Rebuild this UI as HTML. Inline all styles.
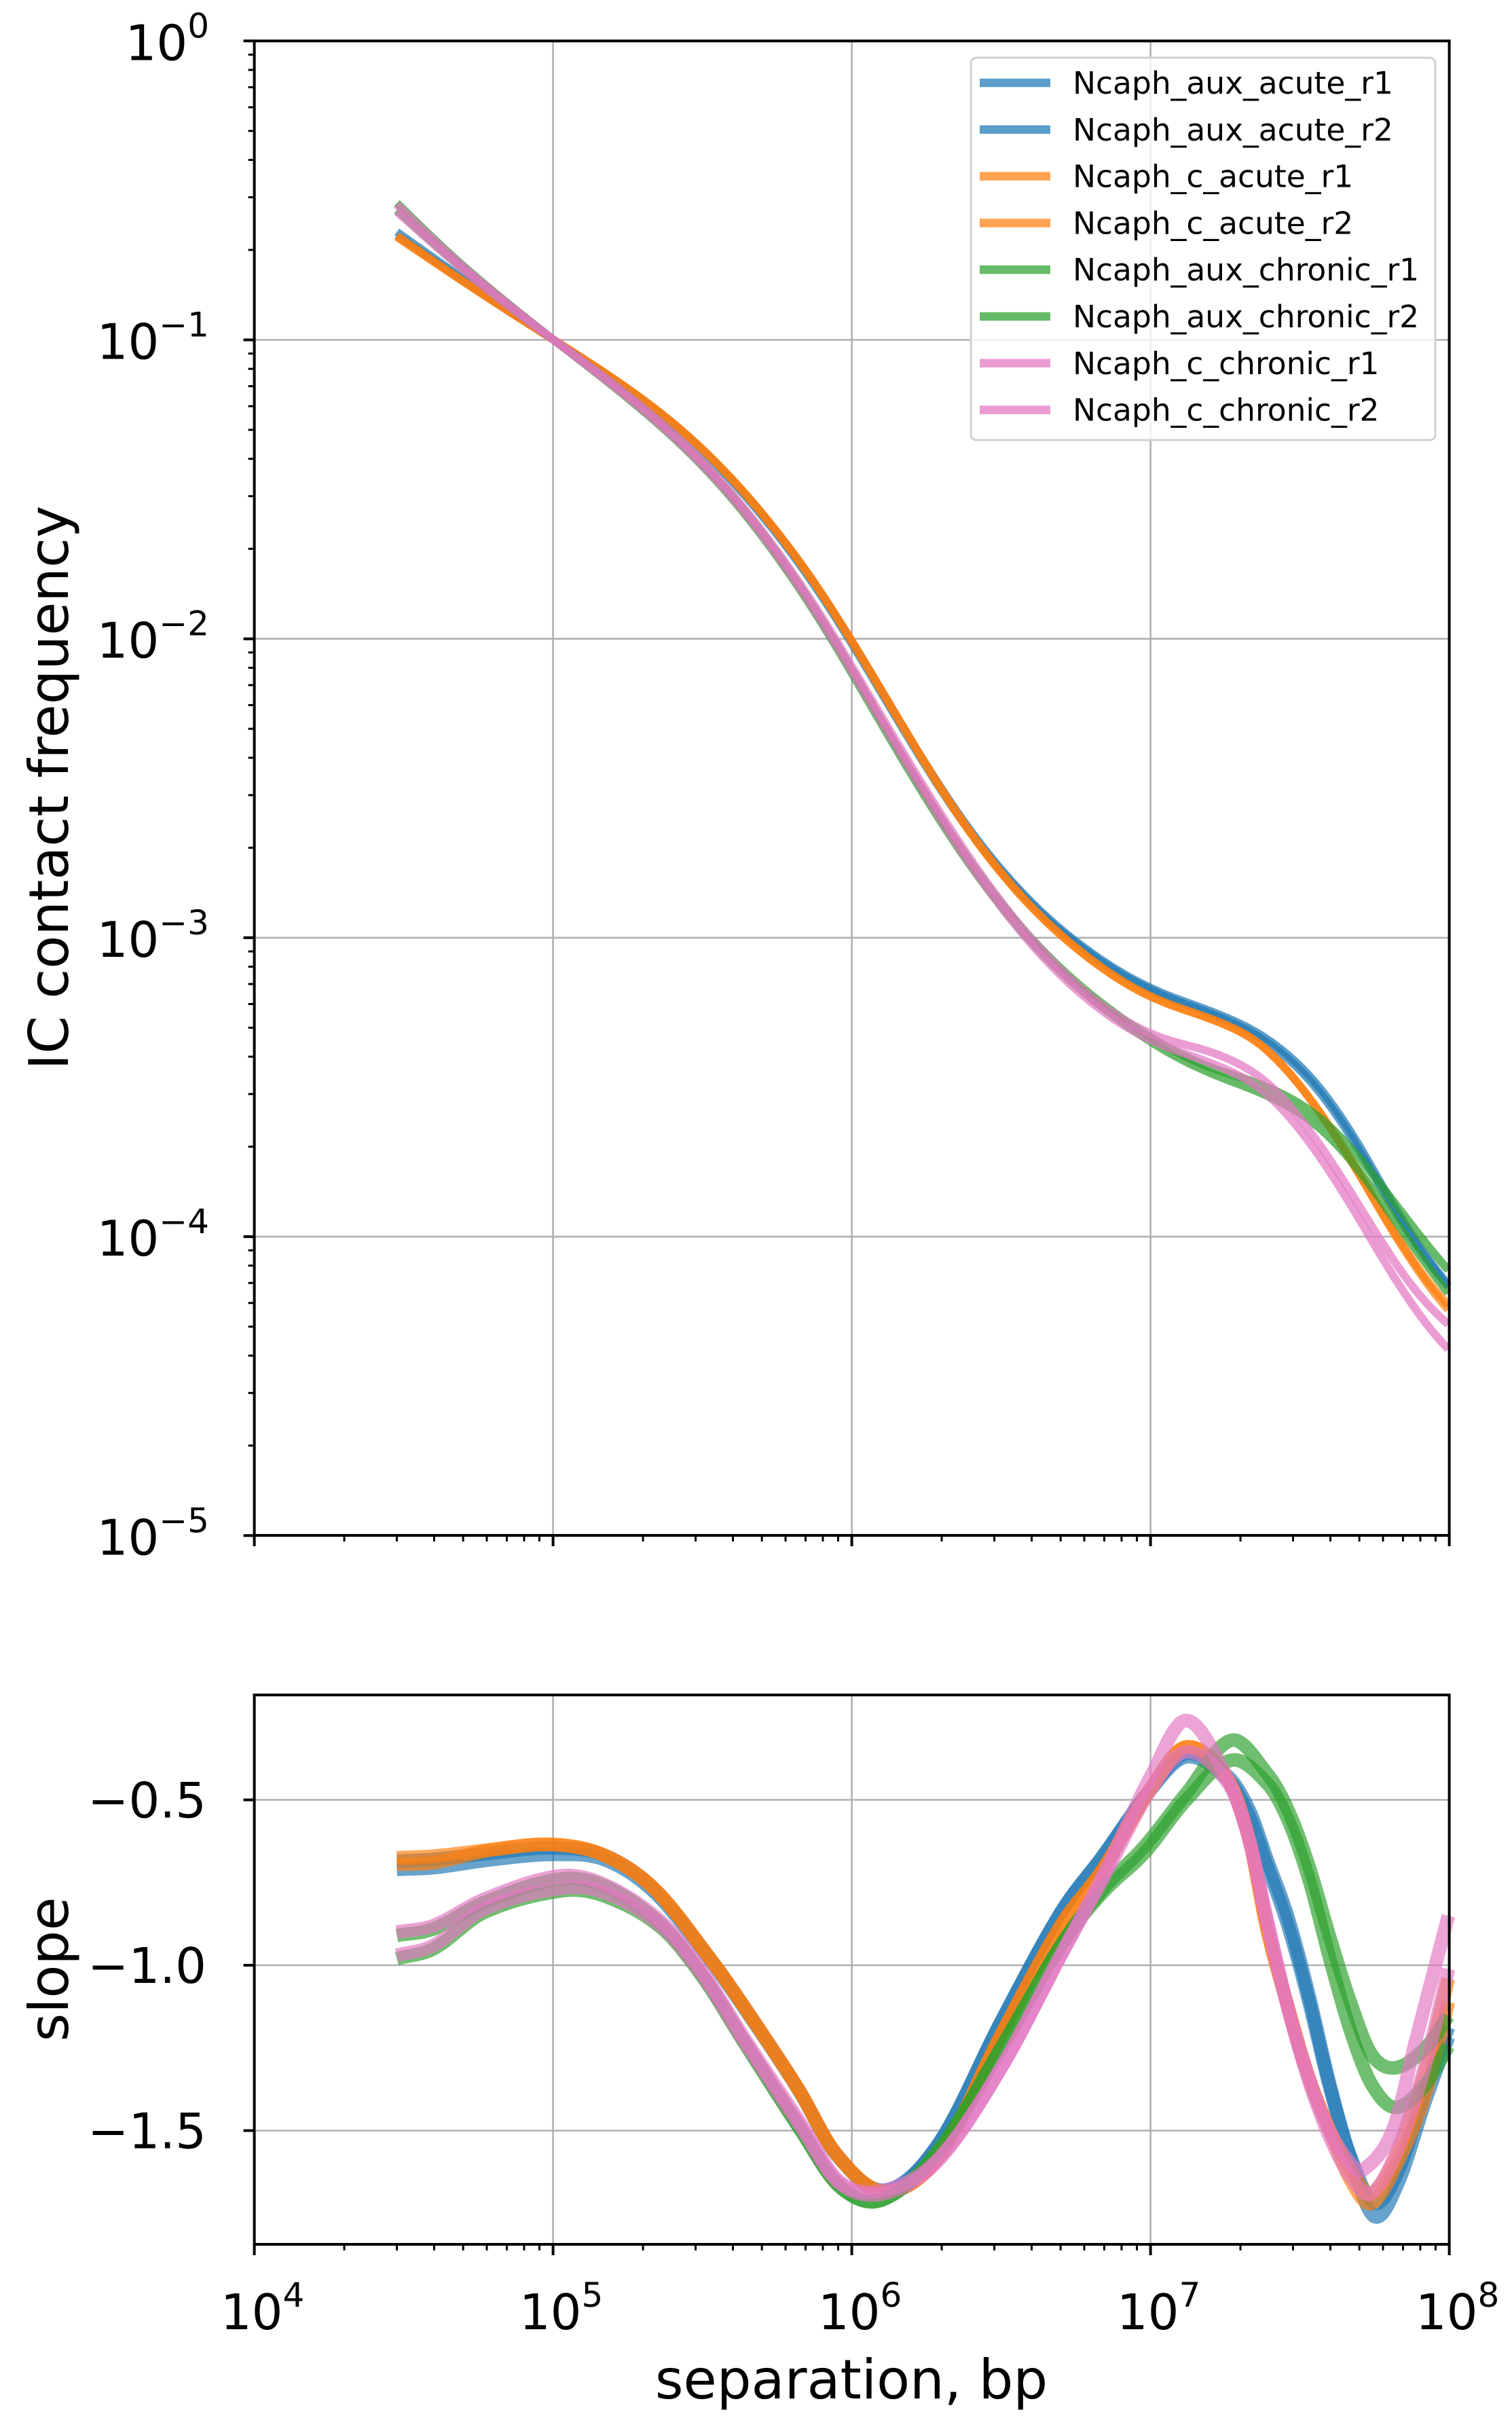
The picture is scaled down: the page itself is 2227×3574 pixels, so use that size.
<!DOCTYPE html>
<html><head><meta charset="utf-8">
<style>
html,body{margin:0;padding:0;background:#fff;}
svg{display:block;}
text{font-family:"DejaVu Sans","Liberation Sans",sans-serif;fill:#000;}
</style></head>
<body>
<svg id="s" width="2227" height="3574" viewBox="0 0 2227 3574" xmlns="http://www.w3.org/2000/svg">
<rect width="2227" height="3574" fill="#fff"/>
<g id="grid"></g>
<g id="curves"></g>
<g id="axes"></g>
<g id="legend"></g>
<text x="78" y="1160" font-size="80" text-anchor="middle" transform="rotate(-90 78 1160)" dominant-baseline="middle">IC contact frequency</text>
<text x="78" y="2900" font-size="80" text-anchor="middle" transform="rotate(-90 78 2900)" dominant-baseline="middle">slope</text>
<text x="1254" y="3532" font-size="80" text-anchor="middle">separation, bp</text>
</svg>
<script>
(function(){
var NS="http://www.w3.org/2000/svg";
function el(tag,attrs,parent,txt){var e=document.createElementNS(NS,tag);for(var k in attrs)e.setAttribute(k,attrs[k]);if(txt!==undefined)e.textContent=txt;parent.appendChild(e);return e;}
var L=374.6,R=2134.6,DX=440;
var T1=60.3,B1=2261,DY1=440.2;
var T2=2496,B2=3305;
function X(ls){return L+(ls-4)*DX;}
function Y1(lp){return T1-lp*DY1;}
function Y2(s){return 2894-(s+1)*487;}
var grid=document.getElementById('grid'),axes=document.getElementById('axes'),cv=document.getElementById('curves'),lg=document.getElementById('legend');
var gc="#b0b0b0",gw=2.6;
for(var d=5;d<=7;d++){el('line',{x1:X(d),x2:X(d),y1:T1,y2:B1,stroke:gc,'stroke-width':gw},grid);el('line',{x1:X(d),x2:X(d),y1:T2,y2:B2,stroke:gc,'stroke-width':gw},grid);}
for(var p=-1;p>=-4;p--){el('line',{x1:L,x2:R,y1:Y1(p),y2:Y1(p),stroke:gc,'stroke-width':gw},grid);}
[-0.5,-1,-1.5].forEach(function(s){el('line',{x1:L,x2:R,y1:Y2(s),y2:Y2(s),stroke:gc,'stroke-width':gw},grid);});
var blue="#1f77b4",orange="#ff7f0e",green="#2ca02c",pink="#e377c2";
function off(arr,lo,hi,d){return arr.map(function(p){return [p[0],(p[0]>=lo&&p[0]<=hi)?p[1]+d:p[1]];});}
var b1=[[4.477,-0.685],[4.6,-0.68],[4.8,-0.66],[5.0,-0.645],[5.17,-0.667],[5.34,-0.77],[5.53,-0.985],[5.64,-1.126],[5.82,-1.373],[5.95,-1.573],[6.11,-1.685],[6.29,-1.54],[6.5,-1.17],[6.7,-0.84],[6.84,-0.67],[7.0,-0.467],[7.12,-0.36],[7.26,-0.43],[7.33,-0.53],[7.39,-0.68],[7.46,-0.855],[7.53,-1.09],[7.6,-1.36],[7.67,-1.585],[7.75,-1.76],[7.83,-1.655],[7.92,-1.41],[8,-1.21]];
var b2=[[4.477,-0.71],[4.6,-0.705],[4.8,-0.68],[5.0,-0.665],[5.17,-0.68],[5.34,-0.78],[5.53,-0.99],[5.64,-1.13],[5.82,-1.375],[5.95,-1.575],[6.11,-1.68],[6.29,-1.54],[6.5,-1.17],[6.7,-0.84],[6.84,-0.67],[7.0,-0.47],[7.12,-0.37],[7.26,-0.44],[7.33,-0.55],[7.39,-0.7],[7.46,-0.88],[7.53,-1.11],[7.6,-1.37],[7.67,-1.58],[7.75,-1.72],[7.83,-1.62],[7.92,-1.38],[8,-1.18]];
var oTail=[[7.26,-0.44],[7.33,-0.62],[7.39,-0.89],[7.46,-1.126],[7.53,-1.34],[7.6,-1.5],[7.67,-1.62],[7.74,-1.69],[7.83,-1.56],[7.92,-1.32],[8,-1.03]];
var o1=off(b1.filter(function(p){return p[0]<7.2;}),6.2,6.9,-0.04).map(function(p){return p[0]<5.05?[p[0],p[1]+0.01]:p;});o1[o1.length-1]=[7.12,-0.34];o1=o1.concat(oTail);
var o2=o1.map(function(p){return p[0]>7.6?[p[0],p[1]-(p[0]<7.9?0.03:0.07)]:(p[0]<4.7?[p[0],p[1]-0.02]:p);});
var p1=[[4.477,-0.9],[4.6,-0.88],[4.77,-0.80],[5.02,-0.73],[5.17,-0.755],[5.36,-0.867],[5.5,-1.02],[5.64,-1.22],[5.83,-1.48],[5.96,-1.655],[6.11,-1.68],[6.29,-1.585],[6.5,-1.31],[6.7,-0.97],[6.84,-0.73],[7,-0.43],[7.12,-0.26],[7.26,-0.44],[7.33,-0.62],[7.39,-0.86],[7.46,-1.13],[7.53,-1.34],[7.6,-1.5],[7.67,-1.6],[7.71,-1.62],[7.81,-1.5],[7.89,-1.22],[8,-0.84]];
var p2=[[4.477,-0.97],[4.6,-0.94],[4.77,-0.83],[5.03,-0.767],[5.17,-0.78],[5.36,-0.88],[5.5,-1.03],[5.64,-1.23],[5.83,-1.49],[5.96,-1.66],[6.11,-1.69],[6.29,-1.59],[6.5,-1.31],[6.7,-0.97],[6.84,-0.74],[7,-0.47],[7.12,-0.355],[7.26,-0.45],[7.33,-0.62],[7.39,-0.87],[7.46,-1.13],[7.53,-1.35],[7.6,-1.52],[7.67,-1.64],[7.74,-1.69],[7.83,-1.55],[7.92,-1.3],[8,-1.0]];
var g1=[[4.477,-0.91],[4.6,-0.89],[4.77,-0.81],[5.02,-0.74],[5.17,-0.76],[5.36,-0.875],[5.5,-1.03],[5.64,-1.23],[5.83,-1.5],[5.96,-1.67],[6.1,-1.71],[6.29,-1.56],[6.5,-1.25],[6.7,-0.94],[6.84,-0.77],[6.98,-0.64],[7.12,-0.48],[7.27,-0.32],[7.39,-0.42],[7.46,-0.53],[7.53,-0.70],[7.6,-0.915],[7.67,-1.114],[7.74,-1.27],[7.82,-1.31],[7.92,-1.25],[8,-1.15]];
var g2=[[4.477,-0.98],[4.6,-0.95],[4.77,-0.84],[5.03,-0.775],[5.17,-0.79],[5.36,-0.885],[5.5,-1.035],[5.64,-1.235],[5.83,-1.5],[5.96,-1.67],[6.1,-1.71],[6.29,-1.56],[6.5,-1.25],[6.7,-0.94],[6.84,-0.78],[6.98,-0.66],[7.12,-0.5],[7.27,-0.38],[7.39,-0.45],[7.46,-0.56],[7.53,-0.74],[7.6,-0.98],[7.67,-1.2],[7.74,-1.36],[7.82,-1.43],[7.92,-1.36],[8,-1.24]];
var series=[[b1,blue],[b2,blue],[o1,orange],[o2,orange],[g1,green],[g2,green],[p1,pink],[p2,pink]];
function interp(pts,x){
  var n=pts.length;if(x<=pts[0][0])return pts[0][1];if(x>=pts[n-1][0])return pts[n-1][1];
  var i=0;while(pts[i+1][0]<x)i++;
  function tan(k){if(k<=0)return (pts[1][1]-pts[0][1])/(pts[1][0]-pts[0][0]);if(k>=n-1)return (pts[n-1][1]-pts[n-2][1])/(pts[n-1][0]-pts[n-2][0]);return (pts[k+1][1]-pts[k-1][1])/(pts[k+1][0]-pts[k-1][0]);}
  var x0=pts[i][0],x1=pts[i+1][0],h=x1-x0,t=(x-x0)/h,y0=pts[i][1],y1=pts[i+1][1],m0=tan(i)*h,m1=tan(i+1)*h;
  var t2=t*t,t3=t2*t;
  return (2*t3-3*t2+1)*y0+(t3-2*t2+t)*m0+(-2*t3+3*t2)*y1+(t3-t2)*m1;
}
var step=0.005,x0=4.477;
var tops=[],bots=[];
series.forEach(function(sr){
  var pts=sr[0];var xs=[],ss=[];
  for(var x=x0;x<=8.0001;x+=step){xs.push(x);ss.push(interp(pts,x));}
  var i5=Math.round((5-x0)/step);var lp=new Array(xs.length);lp[i5]=-1;
  for(var i=i5+1;i<xs.length;i++)lp[i]=lp[i-1]+0.5*(ss[i]+ss[i-1])*(xs[i]-xs[i-1]);
  for(var i=i5-1;i>=0;i--)lp[i]=lp[i+1]-0.5*(ss[i]+ss[i+1])*(xs[i+1]-xs[i]);
  var d1="",d2="";
  for(var i=0;i<xs.length;i++){d1+=(i?"L":"M")+X(xs[i]).toFixed(1)+" "+Y1(lp[i]).toFixed(1);d2+=(i?"L":"M")+X(xs[i]).toFixed(1)+" "+Y2(ss[i]).toFixed(1);}
  tops.push([d1,sr[1]]);bots.push([d2,sr[1]]);
});
tops.forEach(function(t){el('path',{d:t[0],fill:'none',stroke:t[1],'stroke-width':12,'stroke-opacity':0.72,'stroke-linejoin':'round'},cv);});
bots.forEach(function(t){el('path',{d:t[0],fill:'none',stroke:t[1],'stroke-width':20,'stroke-opacity':0.68,'stroke-linejoin':'round'},cv);});
[[T1,B1],[T2,B2]].forEach(function(r){el('rect',{x:L,y:r[0],width:R-L,height:r[1]-r[0],fill:'none',stroke:'#000','stroke-width':4},axes);});
[B1,B2].forEach(function(yb){
  for(var d=4;d<=8;d++){el('line',{x1:X(d),x2:X(d),y1:yb,y2:yb+16,stroke:'#000','stroke-width':4},axes);
    if(d<8)for(var m=2;m<=9;m++){var xx=X(d+Math.log10(m));el('line',{x1:xx,x2:xx,y1:yb,y2:yb+9,stroke:'#000','stroke-width':3},axes);}}
});
for(var p=0;p>=-5;p--){el('line',{x1:L-16,x2:L,y1:Y1(p),y2:Y1(p),stroke:'#000','stroke-width':4},axes);
  if(p>-5)for(var m=2;m<=9;m++){var yy=Y1(p-1+Math.log10(m));el('line',{x1:L-9,x2:L,y1:yy,y2:yy,stroke:'#000','stroke-width':3},axes);}}
[-0.5,-1,-1.5].forEach(function(s){el('line',{x1:L-16,x2:L,y1:Y2(s),y2:Y2(s),stroke:'#000','stroke-width':4},axes);});
function pow(x,y,exp,anchor){var t=el('text',{x:x,y:y,'font-size':72,'text-anchor':anchor},axes);el('tspan',{},t,"10");el('tspan',{dy:-33,'font-size':50},t,exp);return t;}
for(var p=0;p>=-5;p--){pow(308,Y1(p)+28,p===0?"0":"\u2212"+(-p),'end');}
for(var d=4;d<=8;d++){pow(X(d)+12,3430,""+d,'middle');}
[["\u22120.5",-0.5],["\u22121.0",-1],["\u22121.5",-1.5]].forEach(function(a){el('text',{x:304,y:Y2(a[1])+26,'font-size':72,'text-anchor':'end'},axes,a[0]);});
el('rect',{x:1430,y:85,width:684,height:563,rx:8,fill:'#fff','fill-opacity':0.8,stroke:'#d0d0d0','stroke-width':3},lg);
var names=["Ncaph_aux_acute_r1","Ncaph_aux_acute_r2","Ncaph_c_acute_r1","Ncaph_c_acute_r2","Ncaph_aux_chronic_r1","Ncaph_aux_chronic_r2","Ncaph_c_chronic_r1","Ncaph_c_chronic_r2"];
var cols=[blue,blue,orange,orange,green,green,pink,pink];
for(var i=0;i<8;i++){var yy=122+i*68.8;
  el('line',{x1:1443,x2:1547,y1:yy,y2:yy,stroke:cols[i],'stroke-width':12.6,'stroke-opacity':0.72},lg);
  el('text',{x:1580,y:yy+16,'font-size':45.5},lg,names[i]);}
})();
</script>
</body></html>
